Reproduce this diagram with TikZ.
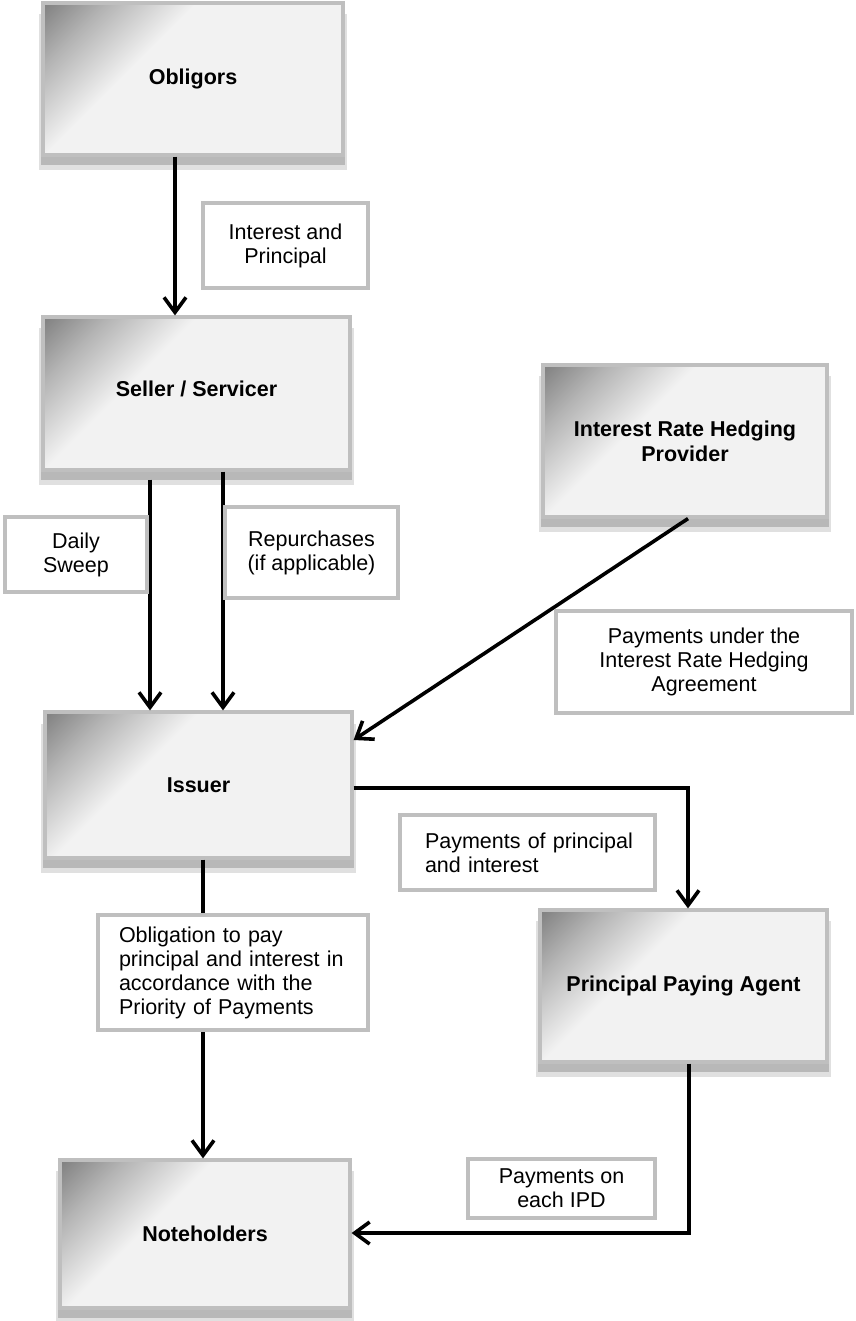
\documentclass[tikz,border=0pt]{standalone}
\usepackage{fontspec}
\setmainfont{Liberation Sans}
\usetikzlibrary{arrows.meta,shadows,calc}
\definecolor{boxfill}{HTML}{F2F2F2}
\definecolor{boxline}{HTML}{BFBFBF}
\definecolor{shA}{HTML}{808080}
\definecolor{shB}{HTML}{B4B4B4}
\pgfdeclarehorizontalshading{cornershade}{100bp}{color(0bp)=(shA); color(14.6bp)=(shA); color(21.5bp)=(shB); color(31bp)=(boxfill); color(100bp)=(boxfill)}
\tikzset{
  entity/.style={draw=boxline, line width=3.2pt, fill=boxfill, inner sep=0pt,
    font=\bfseries\fontsize{21.5}{25}\selectfont, align=center,
    path picture={\shade[shading=cornershade, shading angle=-45]
      (path picture bounding box.north west) rectangle ++(330pt,-330pt);},
    general shadow={fill=black!12, shadow yshift=-13pt, shadow scale=1.025},
    general shadow={fill=black!28, shadow yshift=-9pt, shadow scale=1.015}},
  note/.style={draw=boxline, line width=3.2pt, fill=white, inner sep=0pt,
    font=\fontsize{21.5}{24}\selectfont, align=center},
  flow/.style={line width=3.6pt, -{Straight Barb[length=15pt,width=22pt]}},
}
\begin{document}
\begin{tikzpicture}[x=1pt,y=-1pt]
\useasboundingbox (0,0) rectangle (855,1321);

% main parties
\node[entity, minimum width=300pt, minimum height=152pt] (obl) at (193,79) {Obligors};
\node[entity, minimum width=307pt, minimum height=153pt] (sell) at (196.5,393.5) {\raisebox{10pt}{Seller / Servicer}};
\node[entity, minimum width=284pt, minimum height=152pt] (irhp) at (685,441) {Interest Rate Hedging\\Provider};
\node[entity, minimum width=307pt, minimum height=146pt] (iss) at (198.5,785) {Issuer};
\node[entity, minimum width=287pt, minimum height=152pt] (ppa) at (683.5,986) {Principal Paying Agent};
\node[entity, minimum width=290pt, minimum height=148pt] (nh) at (205,1234) {Noteholders};

% connectors
\draw[flow] (obl.south -| 175,0) -- (sell.north -| 175,0);
\draw[flow] ($(sell.south -| 150,0)+(0pt,-8pt)$) -- (iss.north -| 150,0);
\draw[flow] (sell.south -| 223,0) -- (iss.north -| 223,0);
\draw[flow] (irhp.south -| 688,0) -- (iss.east |- 0,740);
\draw[flow] (iss.east |- 0,788) -| (ppa.north -| 688,0);
\draw[flow] (iss.south -| 203,0) -- (nh.north -| 203,0);
\draw[flow] (ppa.south -| 689,0) |- (nh.east |- 0,1233);

% labels
\node[note, minimum width=165pt, minimum height=85pt] (lip) at (285.5,245.5) {Interest and\\Principal};
\node[note, minimum width=142pt, minimum height=75pt] (lds) at (76,554.5) {Daily\\Sweep};
\node[note, minimum width=173pt, minimum height=91pt] (lrp) at (311.5,552.5) {Repurchases\\(if applicable)};
\node[note, minimum width=296pt, minimum height=102pt] (lha) at (704,662) {Payments under the\\Interest Rate Hedging\\Agreement};
\node[note, align=left, text width=205pt, inner xsep=25pt, minimum height=75pt] (lpp) at (527.5,852.5) {\mbox{Payments of principal}\\and interest};
\node[note, align=left, text width=228pt, inner xsep=21pt, minimum height=115pt] (lob) at (233,972.5) {\mbox{Obligation to pay}\\\mbox{principal and interest in}\\\mbox{accordance with the}\\\mbox{Priority of Payments}};
\node[note, minimum width=187pt, minimum height=59pt] (lipd) at (561.5,1188.5) {Payments on\\each IPD};
\end{tikzpicture}
\end{document}
